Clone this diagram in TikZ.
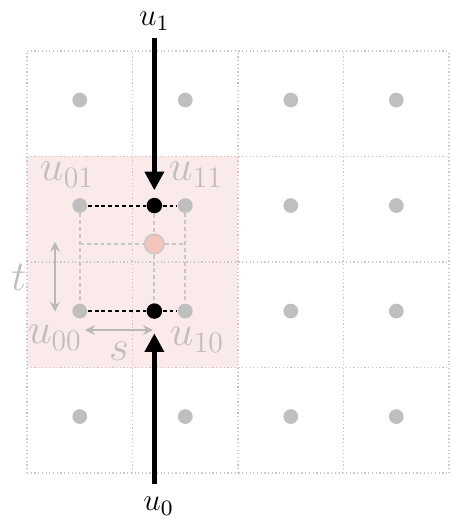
\RequirePackage{fix-cm}
\documentclass[tikz,border=0pt]{standalone}
\usepackage{amsmath}
\usepackage{tikz}
\usetikzlibrary{arrows.meta}

\definecolor{gridgray}{RGB}{200,200,200}
\definecolor{dotgray}{RGB}{191,191,191}
\definecolor{cellpink}{RGB}{251,234,234}
\definecolor{samplepink}{RGB}{245,196,188}

\begin{document}
\begin{tikzpicture}[x=1.5cm, y=1.5cm, line join=round,
graydot/.style={circle, fill=dotgray, inner sep=0pt, minimum size=0.21cm},
blackdot/.style={circle, fill=black, inner sep=0pt, minimum size=0.22cm},
cornerlbl/.style={text=dotgray, font=\LARGE, inner sep=0pt},
inlbl/.style={font=\fontsize{12.7}{15}\selectfont, inner sep=0pt},
bigarrow/.style={line width=2.1pt, -{Triangle[length=7.5pt, width=7.5pt]}},
measure/.style={dotgray!90!gray, line width=0.7pt, {Stealth[length=4pt, width=4pt]}-{Stealth[length=4pt, width=4pt]}}]

\useasboundingbox (-0.256,-0.540) rectangle (4.009,4.483);

% Shade the 2x2 block around the sample
\fill[cellpink] (0,1) rectangle (2,3);

% Draw the grid
\foreach \x in {0,...,4} {
	\draw[gridgray, densely dotted, line width=0.5pt] (\x,0) -- (\x,4); % vertical lines
}
\foreach \y in {0,...,4} {
	\draw[gridgray, densely dotted, line width=0.5pt] (0,\y) -- (4,\y); % horizontal lines
}

% Cell centres
\foreach \i in {0,...,3} {
	\foreach \j in {0,...,3} {
		\node[graydot] (g\i\j) at (\i+0.5,\j+0.535) {};
	}
}

% Interpolated points and the sample
\node[blackdot] (b0) at (1.207,1.535) {};
\node[blackdot] (b1) at (1.207,2.535) {};
\node[circle, fill=samplepink, draw=gridgray, line width=0.6pt, inner sep=0pt, minimum size=0.28cm] (p) at (1.207,2.17) {};
\coordinate (pl) at (g01 |- p);
\coordinate (pr) at (g11 |- p);

% Dashed helper lines
\draw[gridgray, line width=0.8pt, dash pattern=on 1.6pt off 1.2pt] (g02) -- (g01);
\draw[gridgray, line width=0.8pt, dash pattern=on 1.6pt off 1.2pt] (g12) -- (g11);
\draw[gridgray, line width=0.8pt, dash pattern=on 1.6pt off 1.2pt] (b1) -- (p) -- (b0);
\draw[gridgray, line width=0.8pt, dash pattern=on 1.6pt off 1.2pt] (pl) -- (p) -- (pr);
\draw[line width=0.8pt, dash pattern=on 1.6pt off 1.2pt] (g02) -- (b1) -- (g12); % top row
\draw[line width=0.8pt, dash pattern=on 1.6pt off 1.2pt] (g01) -- (b0) -- (g11); % bottom row

% Corner labels
\node[cornerlbl] (l01) at (0.379,2.825) {$u_{01}$};
\node[cornerlbl] (l11) at (1.602,2.825) {$u_{11}$};
\node[cornerlbl] (l00) at (0.265,1.280) {$u_{00}$};
\node[cornerlbl] (l10) at (1.611,1.261) {$u_{10}$};

% Offsets s and t
\coordinate (sl) at (0.55,1.355);
\coordinate (sr) at (1.194,1.355);
\draw[measure] (sl) -- (sr);
\node[cornerlbl] (s) at (0.872,1.156) {$s$};
\coordinate (tt) at (0.265,2.192);
\coordinate (tb) at (0.265,1.529);
\draw[measure] (tt) -- (tb);
\node[cornerlbl] (t) at (-0.076,1.858) {$t$};

% Inputs
\node[inlbl] (u1) at (1.207,4.284) {$u_1$};
\node[inlbl] (u0) at (1.246,-0.313) {$u_0$};
\coordinate (u1s) at (1.207,4.123);
\coordinate (u0n) at (1.207,-0.107);
\draw[bigarrow, shorten >=0.1cm] (u1s) -- (b1);
\draw[bigarrow, shorten >=0.2cm] (u0n) -- (b0);

\end{tikzpicture}
\end{document}
